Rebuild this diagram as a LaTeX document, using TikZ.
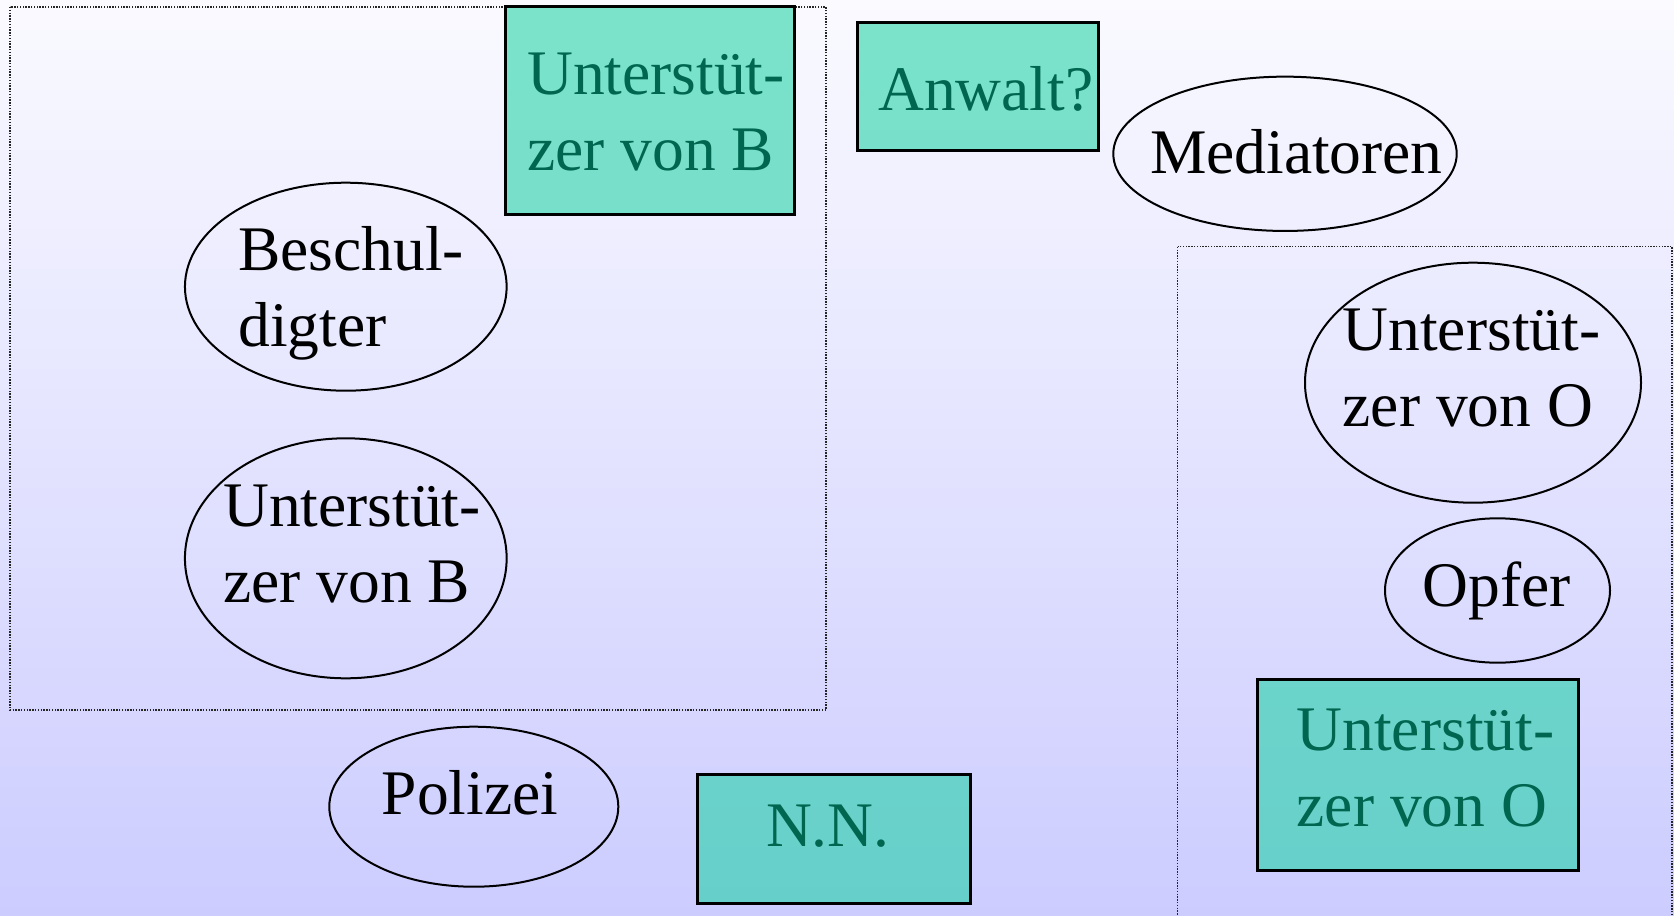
\documentclass[tikz,border=0pt]{standalone}
\usepackage{fontspec}
\setmainfont{Liberation Serif}
\usetikzlibrary{shapes.geometric}
\definecolor{bgtop}{RGB}{250,250,255}
\definecolor{bgbot}{RGB}{204,204,255}
\definecolor{tealfill}{RGB}{20,210,160}
\definecolor{txtgreen}{RGB}{0,102,80}
\begin{document}
\begin{tikzpicture}[x=1pt,y=-1pt,
  oval/.style={draw=black, line width=2pt, ellipse, inner sep=0pt, outer sep=0pt},
  tealbox/.style={draw=black, line width=3pt, fill=tealfill, fill opacity=0.55, draw opacity=1, rectangle, inner sep=0pt, outer sep=0pt},
  groupbox/.style={draw=black!85, line width=1.3pt, dash pattern=on 1.4pt off 1.4pt},
  lbl/.style={font=\fontsize{63.5}{76}\selectfont, inner sep=0pt, outer sep=0pt, align=left, anchor=base west},
  glbl/.style={lbl, text=txtgreen}]
\shade[top color=bgtop, bottom color=bgbot] (0,0) rectangle (1674,916);
\useasboundingbox (0,0) rectangle (1674,916);

% groups
\draw[groupbox] (10,7) rectangle (826,710);
\draw[groupbox] (1177.7,246.7) rectangle (1672,940);

% boxes
\node[tealbox, minimum width=288.3pt, minimum height=207.6pt] (ubbox) at (649.85,110.5) {};
\node[tealbox, minimum width=241.4pt, minimum height=128pt] (anwalt) at (978,86.7) {};
\node[tealbox, minimum width=273.4pt, minimum height=129pt] (nn) at (834,838.8) {};
\node[tealbox, minimum width=321pt, minimum height=191.7pt] (uobox) at (1417.8,774.85) {};

% ellipses
\node[oval, minimum width=343.4pt, minimum height=154.3pt] (med) at (1285,153.8) {};
\node[oval, minimum width=321.7pt, minimum height=208pt] (besch) at (345.8,286.7) {};
\node[oval, minimum width=321.7pt, minimum height=240pt] (ubell) at (345.8,558.3) {};
\node[oval, minimum width=289pt, minimum height=160pt] (pol) at (473.8,806.7) {};
\node[oval, minimum width=336pt, minimum height=240pt] (uoell) at (1473,382.7) {};
\node[oval, minimum width=225pt, minimum height=144.4pt] (opfer) at (1497.5,590.5) {};

% texts (anchor = baseline of the last line)
\node[glbl] (tubbox) at (527.3,170.5) {Unterstüt-\\zer von B};
\node[glbl] (tanwalt) at (878.3,110) {Anwalt?};
\node[lbl] (tmed) at (1150,173.3) {Mediatoren};
\node[lbl] (tbesch) at (238.3,346.7) {Beschul-\\digter};
\node[lbl] (tubell) at (223.3,602) {Unterstüt-\\zer von B};
\node[lbl] (tpol) at (381.7,814) {Polizei};
\node[glbl] (tnn) at (766,846.7) {N.N.};
\node[lbl] (tuoell) at (1342.7,426.5) {Unterstüt-\\zer von O};
\node[lbl] (topfer) at (1422.7,606.7) {Opfer};
\node[glbl] (tuobox) at (1296.7,826.7) {Unterstüt-\\zer von O};
\end{tikzpicture}
\end{document}
